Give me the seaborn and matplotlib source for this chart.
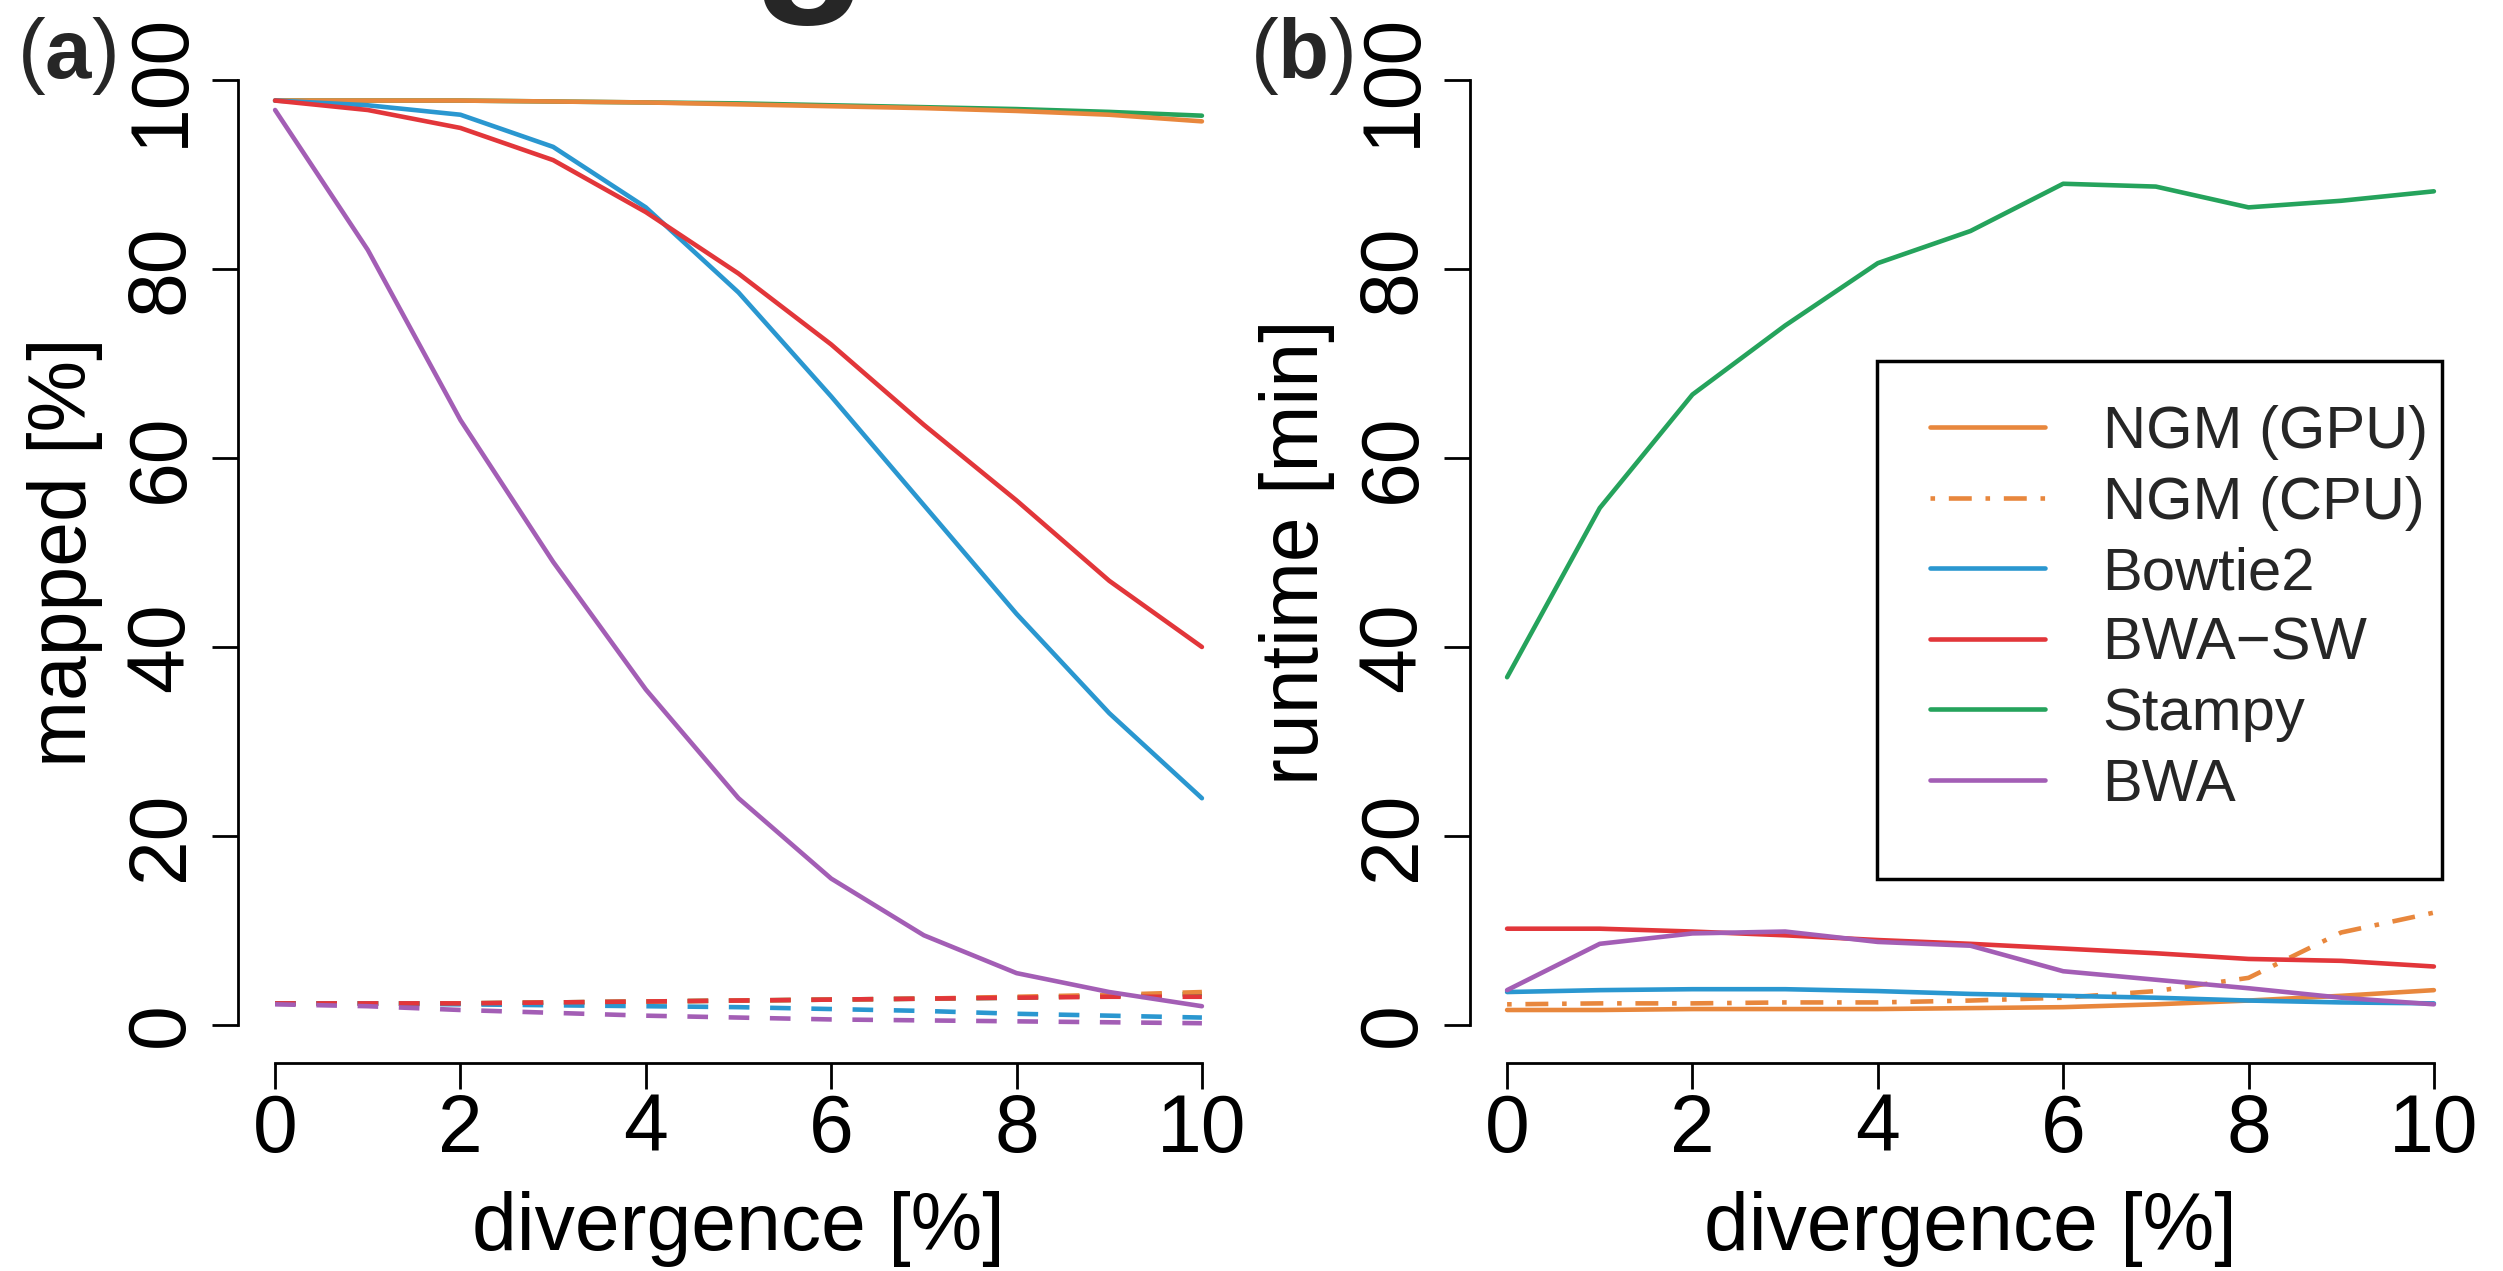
import matplotlib
matplotlib.use('Agg')
import matplotlib.pyplot as plt
from matplotlib.lines import Line2D
from matplotlib.patches import Rectangle
import pandas as pd
import seaborn as sns

# values
divergence = [0, 1, 2, 3, 4, 5, 6, 7, 8, 9, 10]

# (a) mapped [%]  (solid: mapped, dashed: lower curves)
mapped_ngm = [97.8, 97.8, 97.8, 97.7, 97.6, 97.4, 97.2, 97.0, 96.7, 96.3, 95.6]
mapped_stampy = [97.8, 97.8, 97.8, 97.7, 97.6, 97.5, 97.3, 97.1, 96.9, 96.6, 96.2]
mapped_bowtie2 = [97.8, 97.3, 96.3, 92.9, 86.5, 77.5, 66.5, 55.0, 43.5, 33.0, 24.0]
mapped_bwasw = [97.8, 96.8, 94.9, 91.5, 86.0, 79.5, 72.0, 63.5, 55.5, 47.0, 40.0]
mapped_bwa = [96.8, 82.0, 64.0, 49.0, 35.5, 24.0, 15.5, 9.5, 5.5, 3.5, 2.0]

low_ngm = [2.3, 2.3, 2.3, 2.4, 2.5, 2.6, 2.7, 2.8, 3.0, 3.2, 3.5]
low_stampy = [2.3, 2.3, 2.3, 2.4, 2.5, 2.6, 2.7, 2.8, 2.9, 3.1, 3.3]
low_bwasw = [2.3, 2.3, 2.3, 2.4, 2.5, 2.6, 2.7, 2.8, 2.9, 3.0, 3.0]
low_bowtie2 = [2.3, 2.3, 2.2, 2.1, 2.0, 1.9, 1.7, 1.5, 1.2, 1.0, 0.8]
low_bwa = [2.2, 2.0, 1.6, 1.3, 1.0, 0.8, 0.6, 0.5, 0.4, 0.3, 0.2]

# (b) runtime [min]
rt_ngm_gpu = [1.6, 1.6, 1.7, 1.7, 1.7, 1.8, 1.9, 2.2, 2.6, 3.1, 3.7]
rt_ngm_cpu = [2.2, 2.3, 2.3, 2.4, 2.4, 2.6, 2.9, 3.6, 5.0, 9.8, 11.9]
rt_bowtie2 = [3.5, 3.7, 3.8, 3.8, 3.6, 3.3, 3.1, 2.9, 2.6, 2.4, 2.3]
rt_bwasw = [10.2, 10.2, 9.9, 9.5, 9.0, 8.6, 8.1, 7.6, 7.0, 6.8, 6.2]
rt_stampy = [36.8, 54.7, 66.7, 74.0, 80.6, 84.0, 89.0, 88.7, 86.5, 87.2, 88.2]
rt_bwa = [3.7, 8.6, 9.7, 9.9, 8.8, 8.4, 5.7, 4.8, 3.9, 2.9, 2.2]

tools = ['NGM (GPU)', 'NGM (CPU)', 'Bowtie2', 'BWA\u2212SW', 'Stampy', 'BWA']
colors = {'NGM (GPU)': '#E8873D', 'NGM (CPU)': '#E8873D', 'Bowtie2': '#2A97D0',
          'BWA\u2212SW': '#E2363A', 'Stampy': '#25A35C', 'BWA': '#A35EB5'}

rows = []
for name, hi, lo in [('Stampy', mapped_stampy, low_stampy), ('NGM (GPU)', mapped_ngm, low_ngm),
                     ('Bowtie2', mapped_bowtie2, low_bowtie2), ('BWA\u2212SW', mapped_bwasw, low_bwasw),
                     ('BWA', mapped_bwa, low_bwa)]:
    for d, v in zip(divergence, hi):
        rows.append({'divergence': d, 'value': v, 'tool': name, 'kind': 'mapped'})
    for d, v in zip(divergence, lo):
        rows.append({'divergence': d, 'value': v, 'tool': name, 'kind': 'low'})
df_a = pd.DataFrame(rows)

rows = []
for name, vals in [('NGM (GPU)', rt_ngm_gpu), ('NGM (CPU)', rt_ngm_cpu), ('Bowtie2', rt_bowtie2),
                   ('BWA\u2212SW', rt_bwasw), ('Stampy', rt_stampy), ('BWA', rt_bwa)]:
    for d, v in zip(divergence, vals):
        rows.append({'divergence': d, 'value': v, 'tool': name})
df_b = pd.DataFrame(rows)

sns.set_theme(style='white')
plt.rcParams['font.family'] = ['Liberation Sans', 'DejaVu Sans']
plt.rcParams['mathtext.fontset'] = 'custom'
plt.rcParams['mathtext.rm'] = 'Liberation Sans'
plt.rcParams['mathtext.bf'] = 'Liberation Sans:bold'

FS = 58
LW = 3.3
cpu_dash = (1, 3, 5, 3)

fig = plt.figure(figsize=(25.03, 12.71), dpi=100)
ax1 = fig.add_axes([0.0951, 0.1637, 0.3999, 0.8033])
ax2 = fig.add_axes([0.5873, 0.1637, 0.3999, 0.8033])

sns.lineplot(data=df_a, x='divergence', y='value', hue='tool', style='kind',
             hue_order=['Stampy', 'NGM (GPU)', 'Bowtie2', 'BWA\u2212SW', 'BWA'],
             palette=colors, dashes={'mapped': '', 'low': (4.5, 4.5)},
             linewidth=LW, legend=False, ax=ax1)

sns.lineplot(data=df_b, x='divergence', y='value', hue='tool', style='tool',
             hue_order=tools, style_order=tools, palette=colors,
             dashes={t: (cpu_dash if t == 'NGM (CPU)' else '') for t in tools},
             linewidth=LW, legend=False, ax=ax2)

for ax, ylab in [(ax1, 'mapped [%]'), (ax2, 'runtime [min]')]:
    ax.set_xlim(-0.4, 10.4)
    ax.set_ylim(-4, 104)
    ax.set_xticks([0, 2, 4, 6, 8, 10])
    ax.set_yticks([0, 20, 40, 60, 80, 100])
    sns.despine(ax=ax)
    ax.spines['left'].set_bounds(0, 100)
    ax.spines['bottom'].set_bounds(0, 10)
    for s in ['left', 'bottom']:
        ax.spines[s].set_linewidth(2.0)
        ax.spines[s].set_color('black')
    ax.tick_params(axis='both', direction='out', length=18.5, width=2.0, colors='black',
                   labelsize=FS, left=True, bottom=True)
    ax.tick_params(axis='x', pad=3)
    ax.tick_params(axis='y', pad=9, labelrotation=90)
    for lab in ax.get_yticklabels():
        lab.set_va('center')
    ax.set_xlabel('divergence [%]', fontsize=FS, color='black')
    ax.set_ylabel(ylab, fontsize=FS, color='black')
    ax.xaxis.set_label_coords(0.5, -0.125)
    ax.yaxis.set_label_coords(-0.135, 0.5)
    ax.set_facecolor('white')

# legend entries without frame, box drawn separately (R-style legend box)
handles = [Line2D([], [], color=colors[t], lw=LW,
                  dashes=(cpu_dash if t == 'NGM (CPU)' else (None, None))) for t in tools]
leg = ax2.legend(handles, tools, loc='upper left', bbox_to_anchor=(1930 / 2503, 1 - 405 / 1271),
                 bbox_transform=fig.transFigure, fontsize=43, handlelength=1.92,
                 handletextpad=0.97, labelspacing=0.26, borderpad=0, borderaxespad=0,
                 frameon=False)
fig.add_artist(Rectangle((1877 / 2503, 1 - 879 / 1271), (2442 - 1877) / 2503, (879 - 361) / 1271,
                         transform=fig.transFigure, fill=False, edgecolor='black', linewidth=2.5))

fig.text(17 / 2503, 1 - 78 / 1271, r'($\mathbf{a}$)', fontsize=60, ha='left', va='baseline')
fig.text(1250 / 2503, 1 - 78 / 1271, r'($\mathbf{b}$)', fontsize=60, ha='left', va='baseline')
# cut-off letter at the top edge of the original image
fig.text(809 / 2503, 1 + 14 / 1271, 'g', fontsize=137, fontweight='bold', ha='center', va='baseline')

fig.savefig('out.png', dpi=100, facecolor='white')
